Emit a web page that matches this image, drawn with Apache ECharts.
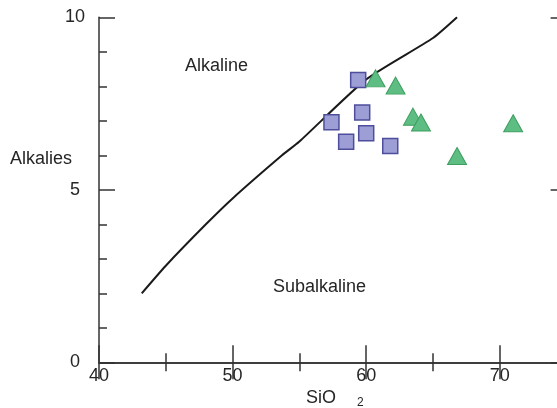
<!DOCTYPE html>
<html>
<head>
<meta charset="utf-8">
<script src="https://cdn.jsdelivr.net/npm/echarts@6/dist/echarts.min.js"></script>
<style>
html,body{margin:0;padding:0;background:#fff;}
#chart{width:557px;height:408px;}
</style>
</head>
<body>
<div id="chart"></div>
<script>
// Boundary line (Alkaline / Subalkaline)
const lineSiO2 = [43.2, 45.0, 48.0, 50.0, 53.7, 55.0, 60.0, 65.0, 66.8];
const lineAlk  = [2.0, 2.8, 4.0, 4.75, 6.0, 6.4, 8.2, 9.4, 10.0];

// Samples: squares
const sqSiO2 = [59.4, 57.4, 59.7, 58.5, 60.0, 61.8];
const sqAlk  = [8.18, 6.96, 7.24, 6.39, 6.64, 6.27];

// Samples: triangles
const triSiO2 = [60.7, 62.2, 63.5, 64.1, 66.8, 71.0];
const triAlk  = [8.23, 8.02, 7.12, 6.95, 5.98, 6.93];

// Region labels
const regionNames = ['Alkaline', 'Subalkaline'];
const regionX = [48.8, 56.5];
const regionY = [8.59, 2.18];

const xTicks = [40, 50, 60, 70];
const yTicks = [0, 5, 10];

const FONT = 'Liberation Sans, Arial, sans-serif';
const AX = '#333';
const TXT = '#262626';

const zip = (a, b) => a.map((v, i) => [v, b[i]]);

const chart = echarts.init(document.getElementById('chart'), null, {renderer: 'canvas'});

const xCommon = {
  type: 'value', min: 40, max: 80, interval: 10,
  axisLine: {show: true, lineStyle: {color: AX, width: 1.5}},
  axisTick: {show: true, inside: true, length: 17, lineStyle: {color: AX, width: 1.5}},
  minorTick: {show: true, splitNumber: 2, length: 9, lineStyle: {color: AX, width: 1.5}},
  splitLine: {show: false}
};
const yCommon = {
  type: 'value', min: 0, max: 10, interval: 5,
  axisLine: {show: true, lineStyle: {color: AX, width: 1.5}},
  axisTick: {show: true, inside: true, length: 16, lineStyle: {color: AX, width: 1.5}},
  minorTick: {show: true, splitNumber: 5, length: 8, lineStyle: {color: AX, width: 1.5}},
  splitLine: {show: false}
};

chart.setOption({
  animation: false,
  grid: {left: 99, top: 17.3, width: 534.4, height: 345, containLabel: false, outerBoundsMode: 'none'},
  xAxis: [
    Object.assign({}, xCommon, {
      position: 'bottom',
      axisLabel: {
        show: true, margin: 5, fontSize: 18, color: TXT, fontFamily: FONT,
        showMaxLabel: false,
        formatter: v => xTicks.includes(v) ? String(v) : ''
      }
    }),
    Object.assign({}, xCommon, {position: 'top', axisLabel: {show: false}})
  ],
  yAxis: [
    Object.assign({}, yCommon, {
      position: 'left',
      axisLabel: {
        show: true, margin: 24, align: 'center', fontSize: 18, color: TXT, fontFamily: FONT,
        formatter: v => yTicks.includes(v) ? String(v) : ''
      }
    }),
    Object.assign({}, yCommon, {position: 'right', offset: -66.8, axisLabel: {show: false}})
  ],
  graphic: [
    {type: 'text', left: 10, top: 150, style: {text: 'Alkalies', font: '18px ' + FONT, fill: TXT}},
    {type: 'text', left: 306, top: 389, style: {text: 'SiO', font: '18px ' + FONT, fill: TXT}},
    {type: 'text', left: 357, top: 397, style: {text: '2', font: '12px ' + FONT, fill: TXT}}
  ],
  series: [
    {
      type: 'line', data: zip(lineSiO2, lineAlk), symbol: 'none', smooth: 0.2,
      lineStyle: {color: '#1a1a1a', width: 2}, clip: true, z: 2
    },
    {
      type: 'scatter', data: zip(sqSiO2, sqAlk), symbol: 'rect', symbolSize: 15,
      itemStyle: {color: '#9e9ed6', borderColor: '#4e4e9c', borderWidth: 1.5, opacity: 1}, z: 3
    },
    {
      type: 'scatter', data: zip(triSiO2, triAlk), symbol: 'triangle', symbolSize: [19, 17],
      itemStyle: {color: '#5dbd82', borderColor: '#3d9e5f', borderWidth: 1, opacity: 1}, z: 4
    },
    {
      type: 'scatter', symbolSize: 0, silent: true,
      itemStyle: {opacity: 1},
      data: regionNames.map((n, i) => ({name: n, value: [regionX[i], regionY[i]]})),
      label: {show: true, position: 'inside', formatter: p => p.name, fontSize: 18, color: TXT,
              fontFamily: FONT, textBorderWidth: 0}
    }
  ]
});
</script>
</body>
</html>
